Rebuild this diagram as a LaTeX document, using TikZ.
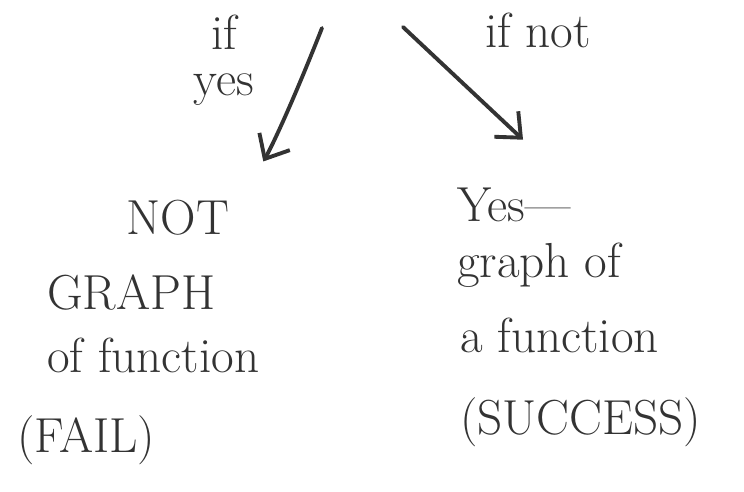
\documentclass[tikz,border=0pt]{standalone}
\usepackage{tikz}
\usetikzlibrary{arrows.meta,positioning}

\begin{document}
\begin{tikzpicture}[x=0.02cm,y=-0.02cm,>={Straight Barb[length=4mm,width=7mm]}]
  \tikzset{hand/.style={text=black!80,font=\fontsize{28}{32}\selectfont,inner sep=1pt},
    flow/.style={->,black!80,line width=2.2pt,line cap=round}}
  \useasboundingbox (0,0) rectangle (744,491);

  % start of the two branches (question above is cut off)
  \coordinate (topL) at (322,28);
  \coordinate (topR) at (403,27);

  % branch labels
  \node[hand,align=center,font=\fontsize{28}{26}\selectfont] (ifyes) at (224,60) {if\\yes};
  \node[hand] (ifnot) at (538,30) {if not};

  % left answer
  \node[hand] (not) at (178,218) {NOT};
  \node[hand,anchor=west] (graph) at (45,292) {GRAPH};
  \node[hand,anchor=west] (offunc) at (45,355) {of function};
  \node[hand,anchor=west] (fail) at (15,440) {(FAIL)};

  % right answer
  \node[hand,anchor=west] (yesdash) at (455,205) {Yes---};
  \node[hand,anchor=west] (graphof) at (455,265) {graph of};
  \node[hand,anchor=west] (afunc) at (458,335) {a function};
  \node[hand,anchor=west] (success) at (458,422) {(SUCCESS)};

  % arrows
  \draw[flow,shorten >=1.3cm] (topL) to[bend left=4] (not.east);
  \draw[flow,shorten >=1.35cm] (topR) -- (yesdash.north east);
\end{tikzpicture}
\end{document}
